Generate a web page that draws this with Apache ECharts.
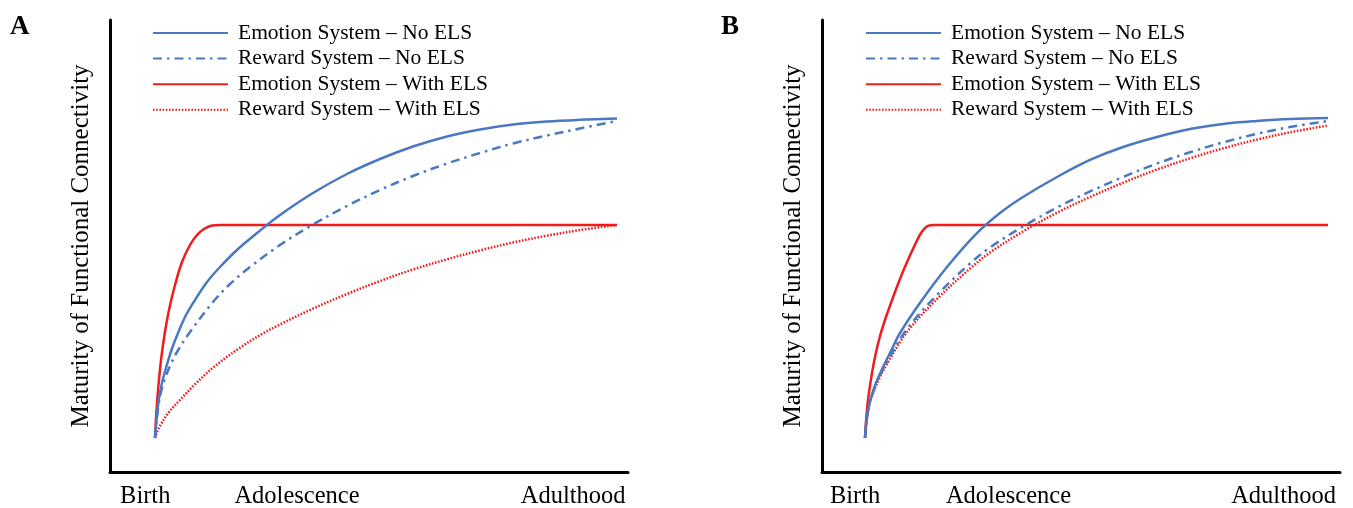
<!DOCTYPE html>
<html>
<head>
    <meta charset="utf-8" />
    <title>Maturity of Functional Connectivity</title>
    <style>
        html, body { margin: 0; padding: 0; background: #fff; }
        #chart { width: 1353px; height: 508px; }
    </style>
</head>
<body>
    <div id="chart"></div>
    <script src="https://cdn.jsdelivr.net/npm/echarts@6/dist/echarts.min.js"></script>
<script>
    // x: 0..100 across each panel's axis, y: 0..100 up the axis
    var seriesNames = ['Emotion System \u2013 No ELS', 'Reward System \u2013 No ELS', 'Emotion System \u2013 With ELS', 'Reward System \u2013 With ELS'];
    var tickLabels = ['Birth', 'Adolescence', 'Adulthood'];
    var tickAtA = [6.8, 36.1, 89.4];
    var tickAtB = [6.4, 36.0, 89.1];

    // panel A
    var emotionNoElsA = [[8.69,7.52],[8.98,11.50],[9.36,15.49],[9.94,19.25],[10.81,23.01],[11.87,26.99],[13.13,30.75],[14.67,34.73],[16.41,38.05],[18.73,42.04],[21.24,45.35],[24.71,49.34],[28.38,52.88],[32.82,56.86],[39.19,61.73],[45.75,65.93],[52.12,69.25],[58.49,72.01],[65.06,74.23],[71.43,75.77],[77.80,76.88],[84.36,77.54],[90.73,77.92],[97.88,78.21]];
    var rewardNoElsA = [[8.69,7.52],[8.98,11.28],[9.36,14.82],[9.94,18.14],[10.71,21.02],[11.58,23.45],[12.93,26.55],[15.44,30.97],[19.88,37.61],[23.17,41.59],[27.03,45.35],[32.82,50.22],[39.19,54.76],[45.75,58.85],[52.12,62.39],[58.49,65.49],[65.06,68.25],[71.43,70.58],[77.80,72.68],[84.36,74.45],[90.73,76.00],[97.88,77.65]];
    var emotionElsA = [[8.69,7.52],[8.98,13.72],[9.36,19.25],[9.85,24.78],[10.52,30.31],[11.39,35.84],[12.55,41.37],[13.90,46.46],[15.44,50.22],[16.80,52.43],[18.15,53.76],[19.69,54.54],[21.24,54.65],[97.88,54.65]];
    var rewardElsA = [[8.69,7.52],[9.07,8.85],[9.65,10.18],[11.20,13.01],[13.51,15.93],[16.41,19.40],[19.88,23.08],[25.10,27.50],[29.54,30.66],[32.82,32.65],[39.19,36.15],[45.75,39.38],[52.12,42.24],[58.49,44.80],[65.06,47.06],[71.43,49.03],[77.80,50.77],[84.36,52.28],[90.73,53.52],[97.88,54.67]];

    // panel B
    var emotionNoElsB = [[8.30,7.52],[8.59,11.28],[8.98,14.16],[9.56,16.81],[10.42,19.69],[11.78,23.23],[13.32,26.77],[15.06,30.75],[19.31,38.05],[24.13,45.35],[29.54,52.43],[34.36,57.30],[38.80,60.84],[45.37,65.27],[51.74,69.03],[58.11,71.90],[64.67,74.12],[71.04,75.88],[77.41,76.99],[83.98,77.65],[90.35,78.10],[97.68,78.32]];
    var rewardNoElsB = [[8.30,7.52],[8.69,12.06],[9.17,15.27],[9.65,17.04],[10.81,20.46],[12.55,24.34],[16.41,31.64],[22.20,39.16],[28.57,46.13],[32.43,49.67],[38.80,54.31],[45.37,58.52],[51.74,62.06],[58.11,65.27],[64.67,68.25],[71.04,70.73],[77.41,72.92],[83.98,74.82],[90.35,76.33],[97.68,77.65]];
    var emotionElsB = [[8.30,7.52],[8.59,12.61],[8.98,16.81],[9.56,21.24],[10.23,25.44],[11.10,29.65],[12.16,33.63],[13.32,37.39],[14.38,40.71],[15.44,43.81],[16.51,46.68],[17.47,49.12],[18.34,51.22],[19.11,52.88],[19.79,53.87],[20.46,54.47],[21.43,54.65],[97.68,54.65]];
    var rewardElsB = [[8.30,7.52],[8.69,11.95],[9.17,15.04],[9.65,16.81],[10.81,20.13],[12.55,23.89],[16.41,30.97],[22.20,38.27],[28.57,45.00],[32.43,48.54],[38.80,53.21],[45.37,57.35],[51.74,60.84],[58.11,63.98],[64.67,66.92],[71.04,69.40],[77.41,71.59],[83.98,73.54],[90.35,75.15],[97.68,76.66]];

    var BLUE = '#4a78c2';
    var RED = '#f01c1c';
    var SERIF = '"Liberation Serif", "Times New Roman", serif';

    var lineStyles = [
        { color: BLUE, width: 2.5, type: 'solid' },
        { color: BLUE, width: 2.5, type: [9, 5, 2.5, 5] },
        { color: RED, width: 2.5, type: 'solid' },
        { color: RED, width: 2.5, type: [1.6, 1.6] }
    ];

    function xAxisFor(idx, ticks) {
        return {
            type: 'value', gridIndex: idx, min: 0, max: 100,
            axisLine: { show: true, lineStyle: { color: '#000', width: 3 } },
            axisTick: { show: false },
            splitLine: { show: false },
            axisLabel: {
                customValues: ticks,
                margin: 12,
                color: '#000',
                fontFamily: SERIF,
                fontSize: 24.5,
                formatter: function (v) {
                    var i = ticks.indexOf(v);
                    return i >= 0 ? tickLabels[i] : '';
                }
            }
        };
    }

    function yAxisFor(idx) {
        return {
            type: 'value', gridIndex: idx, min: 0, max: 100,
            name: 'Maturity of Functional Connectivity',
            nameLocation: 'middle',
            nameGap: 16,
            nameTextStyle: { color: '#000', fontFamily: SERIF, fontSize: 25 },
            axisLine: { show: true, lineStyle: { color: '#000', width: 3 } },
            axisTick: { show: false },
            axisLabel: { show: false },
            splitLine: { show: false }
        };
    }

    function legendFor(left) {
        return {
            orient: 'vertical',
            left: left, top: 22,
            padding: 0,
            itemWidth: 75, itemHeight: 4,
            itemGap: 3.6,
            data: seriesNames,
            selectedMode: false,
            itemStyle: { opacity: 0 },
            textStyle: { color: '#000', fontFamily: SERIF, fontSize: 21.5, lineHeight: 20, padding: [0, 0, 0, 5] }
        };
    }

    var series = [];
    [[emotionNoElsA, rewardNoElsA, emotionElsA, rewardElsA], [emotionNoElsB, rewardNoElsB, emotionElsB, rewardElsB]].forEach(function (set, p) {
        set.forEach(function (pts, k) {
            series.push({
                name: seriesNames[k],
                type: 'line',
                xAxisIndex: p, yAxisIndex: p,
                data: pts,
                smooth: 0.35,
                symbol: 'none',
                lineStyle: lineStyles[k],
                itemStyle: { color: lineStyles[k].color },
                z: 4 - k
            });
        });
    });

    var myChart = echarts.init(document.getElementById('chart'));
    var option = {
        animation: false,
        backgroundColor: '#fff',
        title: [
            { text: 'A', left: 5, top: 9, textStyle: { fontFamily: SERIF, fontWeight: 'bold', fontSize: 27, color: '#000' } },
            { text: 'B', left: 716, top: 9, textStyle: { fontFamily: SERIF, fontWeight: 'bold', fontSize: 27, color: '#000' } }
        ],
        grid: [
            { left: 110, top: 20, width: 518, height: 452, outerBoundsMode: 'none' },
            { left: 822, top: 20, width: 518, height: 452, outerBoundsMode: 'none' }
        ],
        legend: [legendFor(152), legendFor(865)],
        xAxis: [xAxisFor(0, tickAtA), xAxisFor(1, tickAtB)],
        yAxis: [yAxisFor(0), yAxisFor(1)],
        series: series
    };

    myChart.setOption(option);
</script>
</body>
</html>
